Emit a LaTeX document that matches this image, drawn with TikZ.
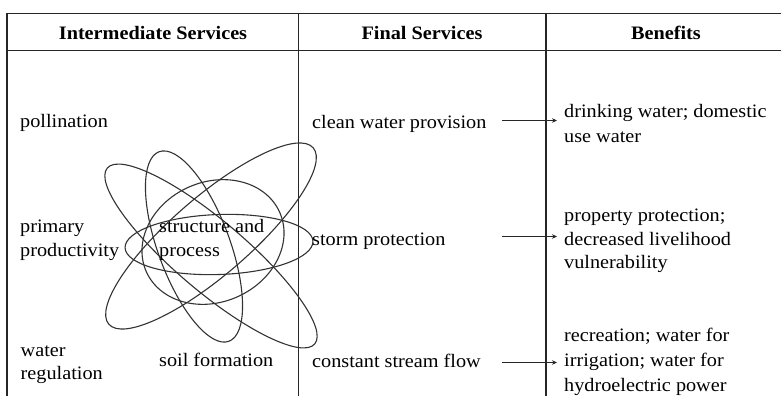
\documentclass[tikz,border=0pt]{standalone}
\usepackage{fontspec}
\setmainfont{Liberation Serif}[FakeStretch=1.065]
\usetikzlibrary{arrows.meta}
\begin{document}
\begin{tikzpicture}[x=1pt,y=-1pt,
  rule/.style={line width=1.3pt,draw=black!85},
  loop/.style={line width=1.1pt,draw=black!80},
  txt/.style={anchor=base west,inner sep=0pt,font=\fontsize{19}{24}\selectfont},
  head/.style={anchor=base,inner sep=0pt,font=\fontsize{19}{24}\selectfont\bfseries},
  link/.style={line width=1pt,draw=black!85,-{Stealth[length=5pt,width=4.5pt]}}]
\useasboundingbox (0,0) rectangle (781,396);
% table rules
\coordinate (tl) at (7,13.5);
\coordinate (tr) at (781,13.5);
\coordinate (hl) at (7,50.5);
\coordinate (hr) at (781,50.5);
\coordinate (bl) at (7,396);
\coordinate (c1t) at (298.5,13.5);
\coordinate (c1b) at (298.5,396);
\coordinate (c2t) at (546,13.5);
\coordinate (c2b) at (546,396);
\draw[rule] (tl) -- (tr);
\draw[rule] (hl) -- (hr);
\draw[rule] (tl) -- (bl);
\draw[rule] (c1t) -- (c1b);
\draw[rule] (c2t) -- (c2b);
% headers
\node[head] (h1) at (153,40) {Intermediate Services};
\node[head] (h2) at (422,40) {Final Services};
\node[head] (h3) at (666,40) {Benefits};
% ellipses
\draw[loop,shift={(219,244.5)},rotate=2] (0,0) ellipse [x radius=94pt,y radius=30pt];
\draw[loop,shift={(211,236)},rotate=40.8] (0,0) ellipse [x radius=135pt,y radius=39pt];
\draw[loop,shift={(211,256)},rotate=-40.3] (0,0) ellipse [x radius=136pt,y radius=35pt];
\draw[loop,shift={(194,246.5)},rotate=110.2] (0,0) ellipse [x radius=101pt,y radius=36pt];
\draw[loop,shift={(213,242)},rotate=24] (0,0) ellipse [x radius=73pt,y radius=60pt];
% intermediate services
\node[txt] (poll) at (20,127.5) {pollination};
\node[txt] (prim1) at (20,232) {primary};
\node[txt] (prim2) at (20,256.5) {productivity};
\node[txt] (wat1) at (20.5,356.5) {water};
\node[txt] (wat2) at (20.5,379) {regulation};
\node[txt] (sp1) at (159,232) {structure and};
\node[txt] (sp2) at (159,256) {process};
\node[txt] (soil) at (159,366.5) {soil formation};
% final services
\node[txt] (cw) at (312,128) {clean water provision};
\node[txt] (st) at (312,245) {storm protection};
\node[txt] (cs) at (312,367) {constant stream flow};
% benefits
\node[txt] (b1a) at (564,117) {drinking water; domestic};
\node[txt] (b1b) at (564,142) {use water};
\node[txt] (b2a) at (564,221.5) {property protection;};
\node[txt] (b2b) at (564,245) {decreased livelihood};
\node[txt] (b2c) at (564,268.5) {vulnerability};
\node[txt] (b3a) at (564,341.5) {recreation; water for};
\node[txt] (b3b) at (564,366.5) {irrigation; water for};
\node[txt] (b3c) at (564,391.5) {hydroelectric power};
% arrows
\coordinate (a1s) at (502,120.5);
\coordinate (a1e) at (557,120.5);
\coordinate (a2s) at (502,236.5);
\coordinate (a2e) at (557,236.5);
\coordinate (a3s) at (502,362.5);
\coordinate (a3e) at (557,362.5);
\draw[link] (a1s) -- (a1e);
\draw[link] (a2s) -- (a2e);
\draw[link] (a3s) -- (a3e);
\end{tikzpicture}
\end{document}
